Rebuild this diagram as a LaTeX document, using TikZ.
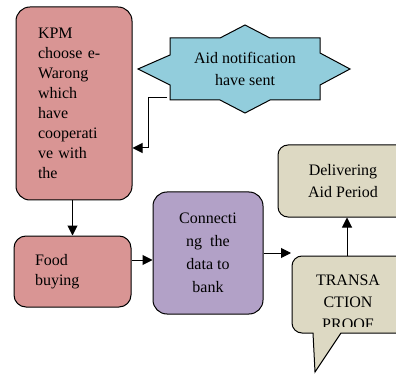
\documentclass[tikz,border=0pt]{standalone}
\usepackage{fontspec}
\setmainfont{Liberation Serif}
\usetikzlibrary{arrows.meta}
\definecolor{kpmred}{HTML}{D99594}
\definecolor{starblue}{HTML}{92CDDC}
\definecolor{bankpurple}{HTML}{B2A1C7}
\definecolor{proofbeige}{HTML}{DDD9C3}
\begin{document}
\begin{tikzpicture}[x=1pt, y=-1pt, line width=1pt,
        box/.style = {draw, rounded corners=14pt, font=\fontsize{16}{20}\selectfont, inner sep=0pt},
        arr/.style = {-{Triangle[length=10pt,width=10pt]}}]
        \useasboundingbox (0,0) rectangle (396,374);
        \node[box, fill=kpmred, minimum width=116pt, minimum height=193pt, text width=72pt, align=left] (kpm) at (74,103.5) {KPM\\choose e-\\Warong\\which\\have\\cooperati\\ve with\\the};
        \node[box, fill=kpmred, rounded corners=12pt, minimum width=117pt, minimum height=71pt, text width=75pt, align=left] (food) at (72.5,271.5) {Food\\buying\\[-3pt]};
        \node[box, fill=bankpurple, minimum width=110pt, minimum height=122pt, align=center, font=\fontsize{16}{23}\selectfont] (conn) at (208,253) {Connecti\\ng\ \ the\\data to\\bank};
        \node[box, fill=proofbeige, rounded corners=10pt, minimum width=130pt, minimum height=72pt, align=center, font=\fontsize{16}{22}\selectfont] (deliv) at (343,181) {Delivering\\Aid Period};
        % eight point star
        \draw[fill=starblue] (138,69) -- (170,55) -- (170,38) -- (220,38) -- (245,25) -- (270,38) -- (320,38) -- (320,53) -- (350,69) -- (320,85) -- (320,100) -- (270,100) -- (245,113) -- (220,100) -- (170,100) -- (170,85) -- cycle;
        \node[align=center, font=\fontsize{16}{22}\selectfont] (aid) at (245,69) {Aid notification\\have sent};
        % speech bubble
        \draw[fill=proofbeige] (405,256) [rounded corners=10pt] -- (292,256) -- (292,333) [sharp corners] -- (313,333) -- (315,372) -- (341,333) -- (405,333) -- cycle;
        \begin{scope}
            \clip (290,256) rectangle (400,326);
            \node[align=center, font=\fontsize{16}{22}\selectfont] (proof) at (348,302) {TRANSA\\CTION\\PROOF};
        \end{scope}
        \coordinate (bubtop) at (347,256);
        \coordinate (staredge) at (167,98);
        \coordinate (bankend) at (291,253);
        \coordinate (fb) at ([yshift=11.5pt]food.east);
        \draw[arr] (staredge) -- (148,98) |- (kpm.east |- 0,148);
        \draw[arr] (food.north |- kpm.south) -- (food.north);
        \draw[arr] (fb) -- (fb -| conn.west);
        \draw[arr] (conn.east) -- (bankend);
        \draw[arr] (bubtop) -- (bubtop |- deliv.south);
    \end{tikzpicture}
\end{document}
